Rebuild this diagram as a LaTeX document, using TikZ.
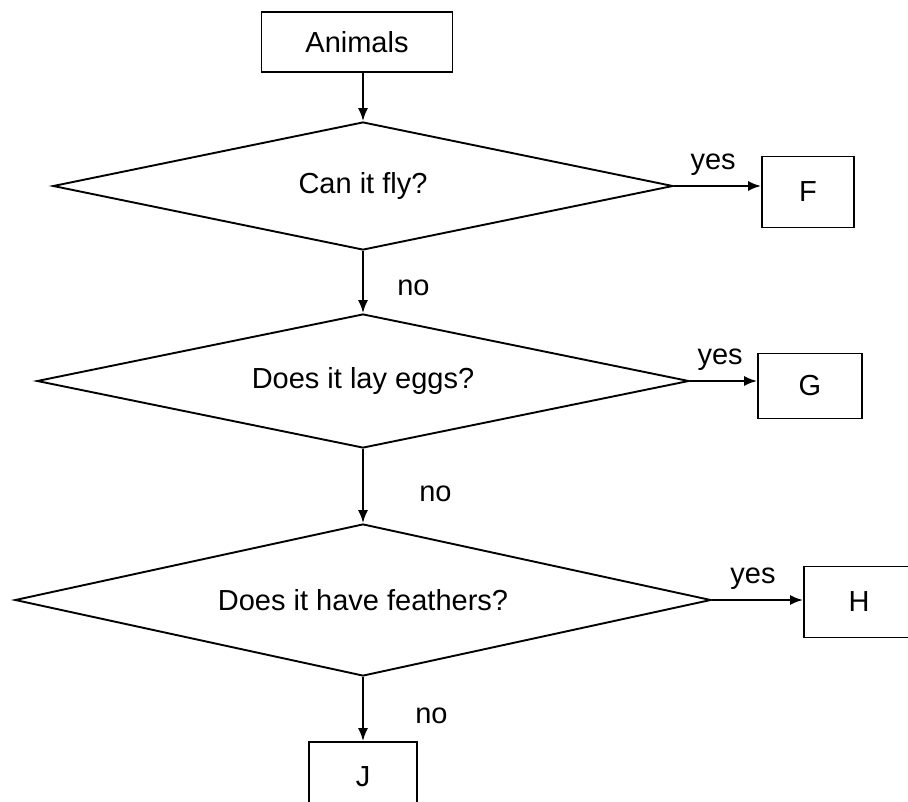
\documentclass[tikz,border=0pt]{standalone}
\usepackage{fontspec}
\setmainfont{Liberation Sans}
\usepackage{tikz}
\usetikzlibrary{arrows.meta}
\usetikzlibrary{shapes.geometric}

\begin{document}
\begin{tikzpicture}[x=1pt, y=-1pt, line width=1.9pt,
        font=\fontsize{29}{32}\selectfont,
        >={Latex[length=13, width=10]},
        box/.style={draw, rectangle, inner sep=0pt},
        decision/.style={draw, diamond, aspect=4.5, inner sep=0pt}]
        \useasboundingbox (0, 0) rectangle (908, 801);
        \node[box, minimum width=191, minimum height=60] (animals) at (357, 42) {Animals};
        \node[decision, minimum width=620, minimum height=128] (fly) at (363, 186) {Can it fly?};
        \node[decision, minimum width=652, minimum height=134] (eggs) at (363, 381) {Does it lay eggs?};
        \node[decision, minimum width=696, minimum height=152] (feathers) at (363, 600) {Does it have feathers?};
        \node[box, minimum width=92, minimum height=71] (F) at (808, 192) {F};
        \node[box, minimum width=104, minimum height=65] (G) at (810, 386) {G};
        \node[box, minimum width=110, minimum height=71] (H) at (859, 602) {H};
        \node[box, minimum width=108, minimum height=70] (J) at (363, 777) {J};
        \draw[->] (fly.north |- animals.south) -- (fly.north);
        \foreach \a/\b/\s in {fly/eggs/30, eggs/feathers/52, feathers/J/48}
        {
            \draw[->] (\a.south) -- (\b.north) node[pos=.6, right=\s] {no};
        }
        \foreach \a/\b in {fly/F, eggs/G, feathers/H}
        {
            \draw[->] (\a.east) -- (\a.east -| \b.west) node[above=6, pos=.45] {yes};
        }
    \end{tikzpicture}
\end{document}
